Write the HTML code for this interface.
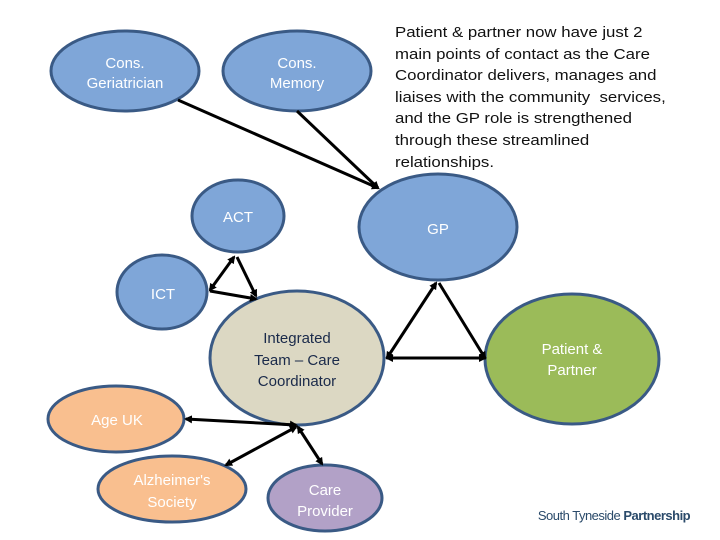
<!DOCTYPE html>
<html><head><style>
body{margin:0;width:720px;height:540px;background:#fff;overflow:hidden;position:relative;font-family:"Liberation Sans",sans-serif}
.t{position:absolute;left:395px;top:22px;font-size:15px;line-height:21.6px;color:#111;white-space:nowrap;transform:scaleX(1.12);transform-origin:0 0}
</style></head><body>
<svg width="720" height="540" style="position:absolute;left:0;top:0" font-family="Liberation Sans, sans-serif">
<defs><marker id="a" markerWidth="8" markerHeight="8" refX="6" refY="4" orient="auto-start-reverse" markerUnits="userSpaceOnUse"><path d="M0,0 L8,4 L0,8 Z" fill="#000"/></marker></defs>
<g stroke="#3a5a85" stroke-width="3">
<ellipse cx="125" cy="71" rx="74" ry="40" fill="#7fa6d8"/>
<ellipse cx="297" cy="71" rx="74" ry="40" fill="#7fa6d8"/>
<ellipse cx="238" cy="216" rx="46" ry="36" fill="#7fa6d8"/>
<ellipse cx="162" cy="292" rx="45" ry="37" fill="#7fa6d8"/>
<ellipse cx="438" cy="227" rx="79" ry="53" fill="#7fa6d8"/>
<ellipse cx="297" cy="358" rx="87" ry="67" fill="#dcd8c3"/>
<ellipse cx="572" cy="359" rx="87" ry="65" fill="#9bbb59"/>
<ellipse cx="116" cy="419" rx="68" ry="33" fill="#f9bf8f"/>
<ellipse cx="172" cy="489" rx="74" ry="33" fill="#f9bf8f"/>
<ellipse cx="325" cy="498" rx="57" ry="33" fill="#b2a1c7"/>
</g>
<g stroke="#000" stroke-width="3" fill="none">
<line x1="178" y1="100" x2="378" y2="188" marker-end="url(#a)"/>
<line x1="297" y1="111" x2="378" y2="188" marker-end="url(#a)"/>
<line x1="234" y1="257" x2="210" y2="290" marker-start="url(#a)" marker-end="url(#a)"/>
<line x1="237" y1="257" x2="256" y2="296" marker-end="url(#a)"/>
<line x1="210" y1="291" x2="256" y2="299" marker-end="url(#a)"/>
<line x1="436" y1="283" x2="387" y2="358" marker-start="url(#a)" marker-end="url(#a)"/>
<line x1="439" y1="283" x2="485" y2="358" marker-end="url(#a)"/>
<line x1="387" y1="358" x2="485" y2="358" marker-start="url(#a)" marker-end="url(#a)"/>
<line x1="186" y1="419" x2="296" y2="425" marker-start="url(#a)" marker-end="url(#a)"/>
<line x1="226" y1="465" x2="296" y2="427" marker-start="url(#a)" marker-end="url(#a)"/>
<line x1="298" y1="427" x2="322" y2="464" marker-start="url(#a)" marker-end="url(#a)"/>
</g>
<g fill="#fff" font-size="15" text-anchor="middle">
<text x="125" y="68">Cons.</text><text x="125" y="88">Geriatrician</text>
<text x="297" y="68">Cons.</text><text x="297" y="88">Memory</text>
<text x="238" y="222">ACT</text>
<text x="163" y="299">ICT</text>
<text x="438" y="234">GP</text>
<text x="572" y="354">Patient &amp;</text><text x="572" y="375">Partner</text>
<text x="117" y="425">Age UK</text>
<text x="172" y="485">Alzheimer's</text><text x="172" y="507">Society</text>
<text x="325" y="495">Care</text><text x="325" y="516">Provider</text>
</g>
<g fill="#1a2a4a" font-size="15" text-anchor="middle">
<text x="297" y="343">Integrated</text><text x="297" y="365">Team – Care</text><text x="297" y="386">Coordinator</text>
</g>
<text x="614" y="520" font-size="13" fill="#2a4a6a" text-anchor="middle" letter-spacing="-0.5">South Tyneside <tspan font-weight="bold">Partnership</tspan></text>
</svg>
<div class="t">Patient &amp; partner now have just 2<br>main points of contact as the Care<br>Coordinator delivers, manages and<br>liaises with the community&nbsp; services,<br>and the GP role is strengthened<br>through these streamlined<br>relationships.</div>
</body></html>
